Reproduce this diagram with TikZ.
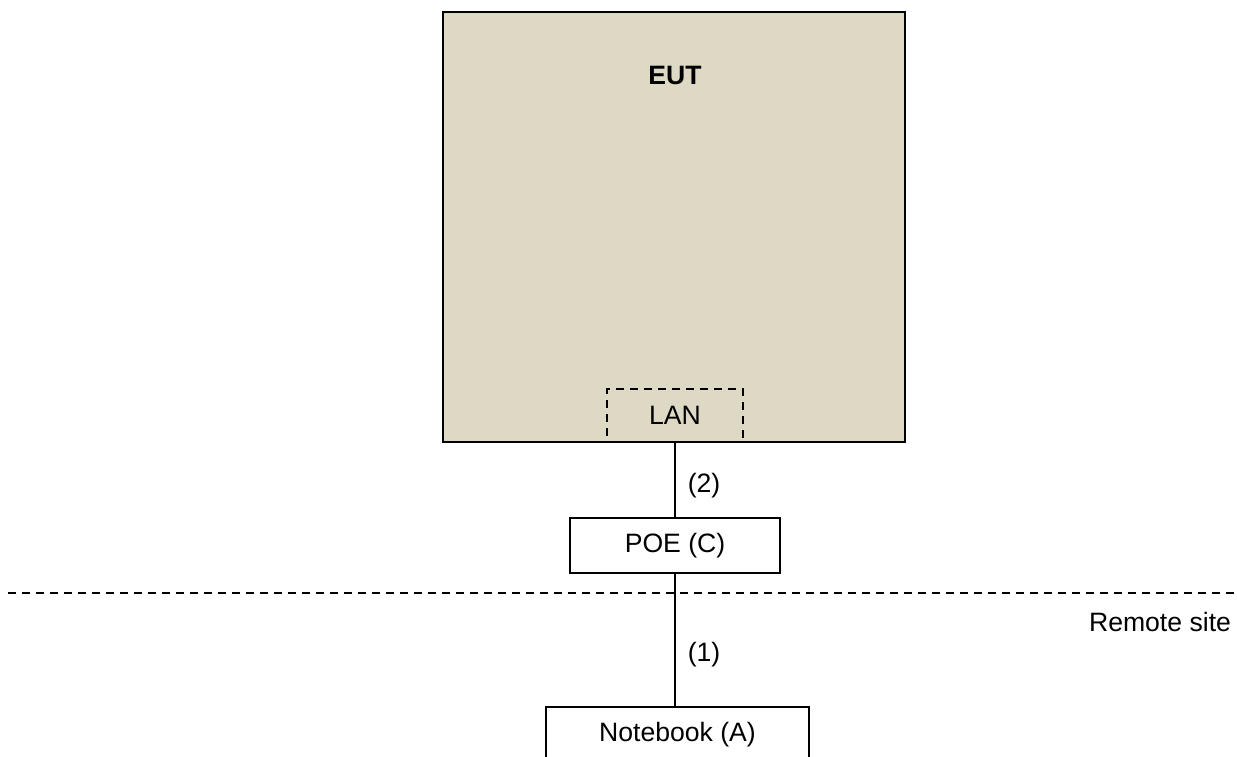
\documentclass[tikz,border=0pt]{standalone}
\usepackage{fontspec}
\setmainfont{Liberation Sans}
\definecolor{eutfill}{RGB}{221,217,196}

\begin{document}
\begin{tikzpicture}[x=0.5pt, y=-0.5pt,
    font=\fontsize{13.3}{16}\selectfont,
    box/.style={draw, line width=0.9pt, rectangle, inner sep=0pt},
    link/.style={line width=0.9pt},
    sitedash/.style={line width=0.9pt, dash pattern=on 4pt off 3pt}]

    \useasboundingbox (0, 0) rectangle (1237, 756);

    % The equipment under test
    \node[box, fill=eutfill, minimum width=231pt, minimum height=215pt] (eut) at (674, 227) {};
    \node[font=\fontsize{13.3}{16}\selectfont\bfseries] (eutlabel) at (675, 75) {EUT};
    \node[box, sitedash, minimum width=68pt, minimum height=26.5pt] (lan) at (675, 415.5) {LAN};

    % The boxes below it
    \node[box, fill=white, minimum width=105pt, minimum height=27.5pt] (poe) at (675, 545.5) {POE (C)};
    \node[box, fill=white, minimum width=131.5pt, minimum height=28pt] (notebook) at (677.5, 735) {Notebook (A)};

    % Cables
    \draw[link] (lan.south) -- (poe.north);
    \draw[link] (poe.south) -- (poe.south |- notebook.north);
    \node (cabletwo) at (704, 486) {(2)};
    \node (cableone) at (704, 655) {(1)};

    % The site border
    \coordinate (siteleft) at (8, 593);
    \coordinate (siteright) at (1237, 593);
    \draw[sitedash] (siteleft) -- (siteright);
    \node (remote) at (1160, 622) {Remote site};

\end{tikzpicture}
\end{document}
